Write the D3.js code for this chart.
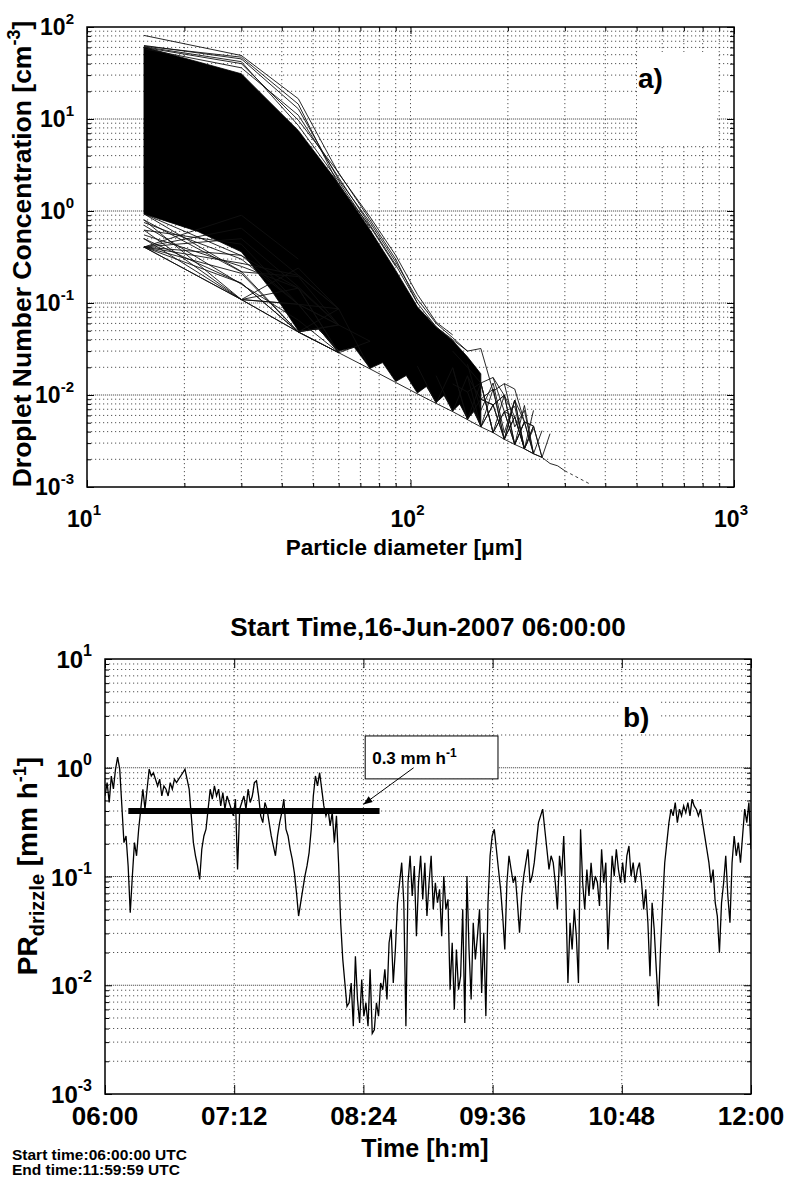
<!DOCTYPE html>
<html>
<head>
<meta charset="utf-8">
<script src="https://cdn.jsdelivr.net/npm/d3@7"></script>
<style>
  body { margin: 0; background: #fff; }
  svg { display: block; }
  text { font-family: "Liberation Sans", Arial, sans-serif; font-weight: bold; fill: #000; }
</style>
</head>
<body>
<svg id="chart" width="787" height="1180"></svg>
<script>
// ---------- panel a) : droplet spectra ----------
const binDiameter = [15, 30, 45, 60, 75, 90, 105, 120, 135, 150, 165, 180, 195, 210, 225, 240, 255, 270, 285, 300];

// one-particle (lowest possible) concentration per bin
const singleCountConc = [0.406, 0.109, 0.0484, 0.0288, 0.0192, 0.0137, 0.0103, 0.0081, 0.0066, 0.0054,
  0.0045, 0.0039, 0.0033, 0.0029, 0.0026, 0.0023, 0.0021, 0.0018, 0.0017, 0.0015];

// outline of the solid black mass of overlapping spectra
const denseTopDiameter = [15, 30, 45, 60, 75, 90, 105, 120, 135, 150, 165];
const denseTopConc = [60.7, 31, 7.5, 1.98, 0.62, 0.226, 0.091, 0.055, 0.039, 0.026, 0.017];
const denseBottomDiameter = [165, 157, 150, 142, 135, 127, 120, 112, 105, 97, 90, 82, 75, 67, 60, 52, 45, 37, 30, 22, 15];
const denseBottomConc = [0.0046, 0.0066, 0.0055, 0.0080, 0.0067, 0.0099, 0.0083, 0.0124, 0.0105, 0.0163, 0.014,
  0.0225, 0.0195, 0.033, 0.030, 0.052, 0.050, 0.14, 0.36, 0.6, 0.93];

// single spectra that stand out of the mass (values per bin, null = empty bin)
const upperSpectra = [
  [81, 49, 16.6, 2.55, 0.86, 0.33, 0.124, 0.062, 0.045],
  [63, 45, 12.9, 2.19, 0.75, 0.28, 0.11, 0.06, 0.042, 0.03],
  [60, 40, 9.7, 2.6, 0.8, 0.3, 0.1],
  [62, 47, 14.5, 1.9, 0.68, 0.25],
  [58, 36, 11, 2.3, 0.7, 0.26, 0.1, 0.055],
  [61, 42, 8.5, 2.1, 0.65]
];
const lowerSpectra = [
  [0.406, 0.21, 0.0484, 0.0576],
  [0.406, 0.33, 0.097, 0.029],
  [0.406, 0.5, 0.15, 0.058],
  [0.406, 0.65, 0.2, 0.086],
  [0.406, 0.9, 0.3],
  [0.62, 0.109, 0.097, 0.058],
  [0.8, 0.109, 0.145, 0.0576],
  [0.5, 0.109, 0.0484, 0.0288],
  [0.93, 0.22, 0.0484, 0.058],
  [0.7, 0.16, 0.065, 0.029],
  [0.55, 0.25, 0.145, 0.0288],
  [0.406, 0.27, 0.2, 0.086],
  [null, 0.109, 0.24, 0.086],
  [0.75, 0.3, 0.0968, 0.0864],
  [0.406, 0.109, 0.0968, 0.0576, 0.0384],
  [0.406, 0.164, 0.0484, 0.0864, 0.0192],
  [0.93, 0.327, 0.145, 0.0288],
  [0.62, 0.436, 0.0968, 0.0288, 0.0384],
  [0.8, 0.218, 0.194, 0.0576],
  [0.5, 0.164, 0.0484, 0.0288]
];
const tailSpectra = [
  [null, null, null, null, null, null, null, 0.055, 0.040, 0.030, 0.032, 0.011, 0.0133, 0.0045, 0.0068, 0.0023],
  [null, null, null, null, null, null, null, null, 0.03, 0.02, 0.0135, 0.0155, 0.0066, 0.0075, 0.0026],
  [null, null, null, null, null, null, null, null, null, 0.016, 0.009, 0.0078, 0.01, 0.0029, 0.0051, 0.0023, 0.0041],
  [null, null, null, null, null, null, null, null, null, null, 0.0135, 0.0039, 0.0066, 0.0058, 0.0026, 0.0046],
  [null, null, null, null, null, null, null, null, null, null, null, null, null, null, 0.0026, 0.0043],
  [null, null, null, null, null, null, null, null, null, null, null, null, null, null, null, null, 0.0021, 0.0038],
  [null, null, null, null, null, null, null, null, null, null, 0.009, 0.0116, 0.0033, 0.0088, 0.0051, 0.0046, 0.0021],
  [null, null, null, null, null, null, null, null, null, null, null, 0.0078, 0.0033, 0.0058, 0.0026, 0.0068],
  [null, null, null, null, null, null, null, 0.0162, 0.0066, 0.0162, 0.0045, 0.0078],
  [null, null, null, null, null, null, 0.0206, 0.0081, 0.0198, 0.0054, 0.0135, 0.0039, 0.01],
  [null, null, null, null, null, null, null, null, 0.0132, 0.0108, 0.0045, 0.0116, 0.0033, 0.0058],
  [null, null, null, null, null, null, null, null, null, 0.0216, 0.0068, 0.0135, 0.0039, 0.0088, 0.0026],
  [null, null, null, null, null, null, null, null, null, null, null, null, 0.0066, 0.0029, 0.0051, 0.0023, 0.0021],
  [null, null, null, null, null, null, null, null, null, 0.0108, 0.0135, 0.0039, 0.0066, 0.0029, 0.0051],
  [null, null, null, null, null, null, null, null, null, null, 0.0045, 0.0078, 0.0099, 0.0029, 0.0077, 0.0023],
  [null, null, null, null, null, null, null, null, 0.0198, 0.0054, 0.009, 0.0078, 0.0033, 0.0088, 0.0026, 0.0046],
  [null, null, null, null, null, null, null, null, null, null, null, 0.0155, 0.0099, 0.0058, 0.0026, 0.0023],
  [null, null, null, null, null, null, null, null, null, null, null, null, 0.0133, 0.0116, 0.0051, 0.0046, 0.0021]
];
const sparseTailDiameter = [300, 360];
const sparseTailConc = [0.0015, 0.00107];

// ---------- panel b) : drizzle rate ----------
const startTime = new Date(2007, 5, 16, 6, 0, 0);
const endTime = new Date(2007, 5, 16, 12, 0, 0);
const prDrizzle = [
  0.55, 0.73, 0.48, 0.84, 0.64, 0.97, 1.25, 0.97, 0.45, 0.205,
  0.236, 0.125, 0.0465, 0.101, 0.205, 0.155, 0.272, 0.416, 0.635, 0.416,
  0.635, 0.97, 0.84, 0.90, 0.785, 0.68, 0.785, 0.55, 0.68, 0.635,
  0.55, 0.73, 0.635, 0.785, 0.73, 0.785, 0.84, 0.90, 0.97, 0.785,
  0.635, 0.361, 0.205, 0.155, 0.125, 0.094, 0.178, 0.236, 0.272, 0.416,
  0.635, 0.514, 0.68, 0.55, 0.635, 0.446, 0.59, 0.416, 0.55, 0.479,
  0.416, 0.361, 0.514, 0.116, 0.416, 0.479, 0.55, 0.416, 0.635, 0.479,
  0.55, 0.73, 0.76, 0.55, 0.361, 0.313, 0.479, 0.416, 0.313, 0.236,
  0.191, 0.155, 0.236, 0.313, 0.387, 0.514, 0.272, 0.236, 0.178, 0.144,
  0.108, 0.071, 0.0433, 0.0574, 0.0762, 0.101, 0.125, 0.166, 0.272, 0.55,
  0.84, 0.68, 0.90, 0.635, 0.446, 0.361, 0.416, 0.292, 0.387, 0.205,
  0.361, 0.134, 0.0376, 0.0173, 0.0105, 0.0064, 0.0069, 0.0105, 0.0042, 0.0185,
  0.0074, 0.0045, 0.0113, 0.0052, 0.0069, 0.0042, 0.0140, 0.0036, 0.0039, 0.0069,
  0.0052, 0.0105, 0.0091, 0.0140, 0.0074, 0.0246, 0.0326, 0.0105, 0.0213, 0.0574,
  0.0877, 0.134, 0.0574, 0.0042, 0.0877, 0.155, 0.0661, 0.125, 0.0283, 0.0877,
  0.155, 0.0616, 0.134, 0.0433, 0.0877, 0.155, 0.0499, 0.0877, 0.0574, 0.0762,
  0.0283, 0.101, 0.0499, 0.0616, 0.0091, 0.0246, 0.0060, 0.0213, 0.0091, 0.0121,
  0.0499, 0.0045, 0.101, 0.0213, 0.0074, 0.0376, 0.0173, 0.0283, 0.0499, 0.0085,
  0.0304, 0.0052, 0.0574, 0.155, 0.236, 0.272, 0.178, 0.116, 0.0762, 0.0433,
  0.0213, 0.0877, 0.155, 0.116, 0.0877, 0.101, 0.0574, 0.0304, 0.0661, 0.101,
  0.134, 0.178, 0.0877, 0.101, 0.134, 0.205, 0.313, 0.361, 0.416, 0.272,
  0.178, 0.116, 0.155, 0.134, 0.0877, 0.0499, 0.155, 0.101, 0.236, 0.0661,
  0.0105, 0.0376, 0.0213, 0.0499, 0.0283, 0.0105, 0.272, 0.0877, 0.0499, 0.116,
  0.0661, 0.134, 0.0762, 0.101, 0.0877, 0.0535, 0.178, 0.0877, 0.134, 0.0213,
  0.0574, 0.155, 0.101, 0.178, 0.116, 0.0877, 0.134, 0.0877, 0.155, 0.191,
  0.101, 0.134, 0.0877, 0.116, 0.134, 0.0877, 0.0499, 0.0762, 0.0376, 0.0121,
  0.0574, 0.0326, 0.0140, 0.0064, 0.0213, 0.0574, 0.134, 0.205, 0.313, 0.416,
  0.361, 0.479, 0.313, 0.416, 0.361, 0.446, 0.387, 0.479, 0.361, 0.514,
  0.446, 0.416, 0.361, 0.416, 0.313, 0.236, 0.178, 0.134, 0.0877, 0.116,
  0.0574, 0.0433, 0.0199, 0.0574, 0.0877, 0.155, 0.0661, 0.0376, 0.134, 0.236,
  0.155, 0.205, 0.134, 0.236, 0.416, 0.313, 0.479, 0.178
];
const thresholdValue = 0.4;
const thresholdTimes = [new Date(2007, 5, 16, 6, 13), new Date(2007, 5, 16, 8, 33)];
const timeTicks = ["06:00", "07:12", "08:24", "09:36", "10:48", "12:00"];

const svg = d3.select('#chart');

const gridStyle = sel => sel.attr('stroke', '#000').attr('stroke-width', 0.9)
  .attr('stroke-dasharray', '1.2,2.8').attr('opacity', 0.75);

function logValues(lo, hi) {
  const v = [];
  for (let e = lo; e < hi; e++) for (let m = 1; m < 10; m++) v.push(m * Math.pow(10, e));
  v.push(Math.pow(10, hi));
  return v;
}

function pow10Text(g, x, y, e, anchor, base, sup, raise) {
  const t = g.append('text').attr('x', x).attr('y', y).attr('text-anchor', anchor).style('font-size', base + 'px');
  t.append('tspan').text('10');
  t.append('tspan').attr('dy', -raise).style('font-size', sup + 'px').text(e);
}

// ===================== panel a =====================
const xA = d3.scaleLog().domain([10, 1000]).range([87, 734]);
const yA = d3.scaleLog().domain([1e-3, 1e2]).range([487, 27]);
const xValsA = logValues(1, 3), yValsA = logValues(-3, 2);
const gA = svg.append('g');

svg.append('clipPath').attr('id', 'clipA').append('rect')
  .attr('x', 87).attr('y', 27).attr('width', 647).attr('height', 460);
svg.append('clipPath').attr('id', 'clipB').append('rect')
  .attr('x', 105).attr('y', 659).attr('width', 646).attr('height', 435);

// grid (minor + major, majors overdrawn with an offset like matlab does)
gA.append('g').selectAll('line').data(xValsA.slice(1, -1)).join('line')
  .attr('x1', d => xA(d)).attr('x2', d => xA(d)).attr('y1', 27).attr('y2', 487).call(gridStyle);
gA.append('g').selectAll('line').data(yValsA.slice(1, -1)).join('line')
  .attr('y1', d => yA(d)).attr('y2', d => yA(d)).attr('x1', 87).attr('x2', 734).call(gridStyle);
gA.append('g').selectAll('line').data([1e-2, 1e-1, 1, 10]).join('line')
  .attr('y1', d => yA(d)).attr('y2', d => yA(d)).attr('x1', 87).attr('x2', 734).call(gridStyle)
  .attr('stroke-dashoffset', 2);

// white background of the panel tag
gA.append('rect').attr('x', 637).attr('y', 52).attr('width', 80).attr('height', 93).attr('fill', '#fff');

const dataA = gA.append('g').attr('clip-path', 'url(#clipA)');
const denseOutline = denseTopDiameter.map((d, i) => [d, denseTopConc[i]])
  .concat(denseBottomDiameter.map((d, i) => [d, denseBottomConc[i]]));
dataA.append('path')
  .attr('d', d3.line().x(d => xA(d[0])).y(d => yA(d[1]))(denseOutline) + 'Z')
  .attr('fill', '#000').attr('stroke', '#000').attr('stroke-width', 0.8);

const specLine = d3.line().defined(d => d[1] != null).x(d => xA(d[0])).y(d => yA(d[1]));
const allSpectra = upperSpectra.concat(lowerSpectra, tailSpectra, [singleCountConc]);
dataA.append('g').selectAll('path').data(allSpectra).join('path')
  .attr('d', s => specLine(s.map((c, i) => [binDiameter[i], c])))
  .attr('fill', 'none').attr('stroke', '#111').attr('stroke-width', 0.9);
dataA.append('path')
  .attr('d', specLine(sparseTailDiameter.map((d, i) => [d, sparseTailConc[i]])))
  .attr('fill', 'none').attr('stroke', '#222').attr('stroke-width', 0.9).attr('stroke-dasharray', '3,3');

// ticks (inside, all four sides)
function logTicks(g, scale, vals, orient, pos) {
  const major = vals.filter(v => Math.abs(Math.log10(v) - Math.round(Math.log10(v))) < 1e-9);
  const minor = vals.filter(v => !major.includes(v));
  [[major, 7], [minor, 4]].forEach(([vs, len]) => {
    const ax = orient(scale).tickValues(vs).tickSizeInner(-len).tickSizeOuter(0).tickFormat('');
    g.append('g').attr('transform', pos).call(ax).call(s => s.select('.domain').remove())
      .selectAll('line').attr('stroke', '#000');
  });
}
logTicks(gA, xA, xValsA, d3.axisBottom, 'translate(0,487)');
logTicks(gA, xA, xValsA, d3.axisTop, 'translate(0,27)');
logTicks(gA, yA, yValsA, d3.axisLeft, 'translate(87,0)');
logTicks(gA, yA, yValsA, d3.axisRight, 'translate(734,0)');
gA.append('rect').attr('x', 87).attr('y', 27).attr('width', 647).attr('height', 460)
  .attr('fill', 'none').attr('stroke', '#000').attr('stroke-width', 1.5);

[1, 2, 3].forEach(e => pow10Text(gA, xA(Math.pow(10, e)) - 3, 527, e, 'middle', 23, 15, 12));
[-3, -2, -1, 0, 1, 2].forEach(e => pow10Text(gA, 74, yA(Math.pow(10, e)) + 8, e, 'end', 23, 15, 11));

gA.append('text').attr('x', 404).attr('y', 555).attr('text-anchor', 'middle').style('font-size', '22.5px')
  .text('Particle diameter [\u03bcm]');
const ylabA = gA.append('text').attr('transform', 'translate(31,254) rotate(-90)')
  .attr('text-anchor', 'middle').style('font-size', '26.5px');
ylabA.append('tspan').text('Droplet Number Concentration [cm');
ylabA.append('tspan').attr('dy', -11).style('font-size', '18px').text('-3');
ylabA.append('tspan').attr('dy', 11).text(']');
gA.append('text').attr('x', 638).attr('y', 88).style('font-size', '28px').text('a)');

// ===================== panel b =====================
const xB = d3.scaleTime().domain([startTime, endTime]).range([105, 751]);
const yB = d3.scaleLog().domain([1e-3, 10]).range([1094, 659]);
const yValsB = logValues(-3, 1);
const tickDates = timeTicks.map(s => d3.timeParse('%Y-%m-%d %H:%M')('2007-06-16 ' + s));
const gB = svg.append('g');

gB.append('g').selectAll('line').data(tickDates.slice(1, -1)).join('line')
  .attr('x1', d => xB(d)).attr('x2', d => xB(d)).attr('y1', 659).attr('y2', 1094).call(gridStyle);
gB.append('g').selectAll('line').data(yValsB.slice(1, -1)).join('line')
  .attr('y1', d => yB(d)).attr('y2', d => yB(d)).attr('x1', 105).attr('x2', 751).call(gridStyle);
gB.append('g').selectAll('line').data([1e-2, 1e-1, 1]).join('line')
  .attr('y1', d => yB(d)).attr('y2', d => yB(d)).attr('x1', 105).attr('x2', 751).call(gridStyle)
  .attr('stroke-dashoffset', 2);

gB.append('rect').attr('x', 621).attr('y', 695).attr('width', 40).attr('height', 38).attr('fill', '#fff');

const dataB = gB.append('g').attr('clip-path', 'url(#clipB)');
const span = endTime - startTime;
const series = prDrizzle.map((v, i) => [new Date(+startTime + span * i / (prDrizzle.length - 1)), v]);
dataB.append('path')
  .attr('d', d3.line().x(d => xB(d[0])).y(d => yB(d[1]))(series))
  .attr('fill', 'none').attr('stroke', '#000').attr('stroke-width', 1.3);
dataB.append('line')
  .attr('x1', xB(thresholdTimes[0])).attr('x2', xB(thresholdTimes[1]))
  .attr('y1', yB(thresholdValue)).attr('y2', yB(thresholdValue))
  .attr('stroke', '#000').attr('stroke-width', 6);

// annotation box + arrow
const at = (h, m) => new Date(2007, 5, 16, h, m);
const bx0 = xB(at(8, 25)), bx1 = xB(at(9, 39)), by0 = yB(1.96), by1 = yB(0.79);
gB.append('rect').attr('x', bx0).attr('y', by0).attr('width', bx1 - bx0).attr('height', by1 - by0)
  .attr('fill', '#fff').attr('stroke', '#000').attr('stroke-width', 1);
const ann = gB.append('text').attr('x', bx0 + 7).attr('y', by0 + 28).style('font-size', '17px');
ann.append('tspan').text('0.3 mm h');
ann.append('tspan').attr('dy', -7).style('font-size', '12px').text('-1');
const ax0 = xB(at(8, 52)), ay0 = yB(1.0), ax1 = xB(at(8, 24)), ay1 = yB(0.46);
gB.append('line').attr('x1', ax0).attr('y1', ay0).attr('x2', ax1).attr('y2', ay1)
  .attr('stroke', '#000').attr('stroke-width', 1);
const ang = Math.atan2(ay1 - ay0, ax1 - ax0);
const head = [[0, 0], [-9, -3.5], [-9, 3.5]].map(([u, v]) =>
  [ax1 + u * Math.cos(ang) - v * Math.sin(ang), ay1 + u * Math.sin(ang) + v * Math.cos(ang)]);
gB.append('path').attr('d', d3.line()(head) + 'Z').attr('fill', '#000');

// ticks
function linTicks(g, ax, pos) {
  g.append('g').attr('transform', pos).call(ax).call(s => s.select('.domain').remove())
    .selectAll('line').attr('stroke', '#000');
}
linTicks(gB, d3.axisBottom(xB).tickValues(tickDates).tickSizeInner(-9).tickSizeOuter(0).tickFormat(''), 'translate(0,1094)');
linTicks(gB, d3.axisTop(xB).tickValues(tickDates).tickSizeInner(-9).tickSizeOuter(0).tickFormat(''), 'translate(0,659)');
logTicks(gB, yB, yValsB, d3.axisLeft, 'translate(105,0)');
logTicks(gB, yB, yValsB, d3.axisRight, 'translate(751,0)');
gB.append('rect').attr('x', 105).attr('y', 659).attr('width', 646).attr('height', 435)
  .attr('fill', 'none').attr('stroke', '#000').attr('stroke-width', 1.5);

const fmt = d3.timeFormat('%H:%M');
gB.append('g').selectAll('text').data(tickDates).join('text')
  .attr('x', d => xB(d)).attr('y', 1125).attr('text-anchor', 'middle').style('font-size', '26px')
  .text(d => fmt(d));
[-3, -2, -1, 0, 1].forEach(e => pow10Text(gB, 92, yB(Math.pow(10, e)) + 9, e, 'end', 24, 16, 12));

gB.append('text').attr('x', 428).attr('y', 636).attr('text-anchor', 'middle').style('font-size', '26px')
  .text('Start Time,16-Jun-2007 06:00:00');
gB.append('text').attr('x', 425).attr('y', 1157).attr('text-anchor', 'middle').style('font-size', '25px')
  .text('Time [h:m]');
const ylabB = gB.append('text').attr('transform', 'translate(37,866) rotate(-90)')
  .attr('text-anchor', 'middle').style('font-size', '28px');
ylabB.append('tspan').text('PR');
ylabB.append('tspan').attr('dy', 7).style('font-size', '20px').text('drizzle');
ylabB.append('tspan').attr('dy', -7).text(' [mm h');
ylabB.append('tspan').attr('dy', -11).style('font-size', '18px').text('-1');
ylabB.append('tspan').attr('dy', 11).text(']');
gB.append('text').attr('x', 623).attr('y', 727).style('font-size', '28px').text('b)');

gB.append('text').attr('x', 12).attr('y', 1160).style('font-size', '15.5px').text('Start time:06:00:00 UTC');
gB.append('text').attr('x', 12).attr('y', 1175).style('font-size', '15.5px').text('End time:11:59:59 UTC');
</script>
</body>
</html>
